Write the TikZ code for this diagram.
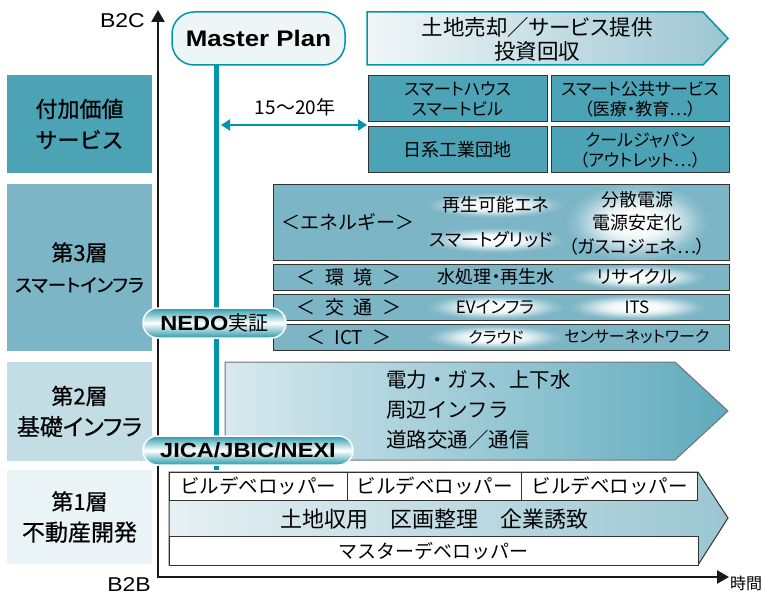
\documentclass[tikz,border=0pt]{standalone}
\usepackage{fontspec}
\setmainfont{Noto Sans CJK JP}[RawFeature=+palt]
\newfontfamily\jpf{Noto Sans CJK JP}
\newfontfamily\jpb{Noto Sans CJK JP}[FakeBold=0.6]
\newfontfamily\jpbp{Noto Sans CJK JP}[FakeBold=0.6,RawFeature=+palt]
\newfontfamily\lat{Liberation Sans}[FakeStretch=1.15]
\usetikzlibrary{arrows.meta,fadings}
\newcommand{\fsz}[2]{\fontsize{#1}{#2}\selectfont}
\definecolor{tealA}{HTML}{0096A8}
\definecolor{dkbox}{HTML}{4BA3B5}
\definecolor{lthree}{HTML}{7BB5C6}
\definecolor{ltwo}{HTML}{C2DDE4}
\definecolor{lone}{HTML}{EAF3F6}
\definecolor{edgec}{HTML}{333333}
\definecolor{mpfill}{HTML}{EEF5F7}
\definecolor{taL}{HTML}{F0F6F8}
\definecolor{taR}{HTML}{9CC6D2}
\definecolor{twoL}{HTML}{D8E9EE}
\definecolor{twoR}{HTML}{5FAABD}
\definecolor{oneL}{HTML}{E6F0F3}
\definecolor{oneR}{HTML}{9AC6D2}
\definecolor{pillc}{HTML}{2A9AAB}
\tikzfading[name=glowfade, inner color=transparent!0, outer color=transparent!100]
\begin{document}
\begin{tikzpicture}[x=1pt,y=-1pt,
  leftlab/.style={inner sep=0, align=center, text=black, font=\jpb\fsz{22}{31}},
  dkb/.style={draw=edgec, line width=1pt, fill=dkbox, inner sep=0, align=center, font=\fsz{17}{20}},
  thb/.style={draw=edgec, line width=1pt, fill=lthree, inner sep=0, minimum width=456pt},
  wb/.style={draw=edgec, line width=1pt, fill=white, inner sep=0, minimum height=28pt, font=\jpf\fsz{19.5}{19.5}},
  txt/.style={inner sep=0, font=\fsz{18}{23.5}, align=center},
  brk/.style={inner sep=0, font=\jpf\fsz{19}{19}},
  glow/.style={fill=white, path fading=glowfade},
  pill/.style={draw=white, line width=1.5pt, top color=pillc, bottom color=pillc, middle color=white, inner sep=0, font=\lat\bfseries\fsz{20.5}{20.5}},
  axisline/.style={line width=2.4pt, draw=black!90, line join=miter}
]
\useasboundingbox (0,0) rectangle (762,596);

% left layer labels
\node[leftlab, fill=dkbox, minimum width=145pt, minimum height=98pt] (L4) at (79.5,124) {\fsz{22}{35}付加価値\\サービス};
\node[leftlab, fill=lthree, minimum width=145pt, minimum height=167pt] (L3) at (79.5,267.5) {第3層\\\jpbp\fsz{18.5}{31}スマートインフラ};
\node[leftlab, fill=ltwo, minimum width=145pt, minimum height=99pt] (L2) at (79.5,411.5) {第2層\\\jpbp\fsz{23}{31}基礎インフラ};
\node[leftlab, fill=lone, minimum width=145pt, minimum height=94pt] (L1) at (79.5,517) {第1層\\\fsz{23}{31}不動産開発};

% axes
\coordinate (O) at (158,577);
\coordinate (ytop) at (158,10);
\coordinate (xend) at (729,577);
\draw[axisline, {Triangle[length=12pt,width=13pt]}-{Triangle[length=12pt,width=13pt]}] (ytop) -- (O) -- (xend);
\node[anchor=east, inner sep=0, font=\lat\fsz{20}{20}] (b2c) at (145,21) {B2C};
\node[inner sep=0, font=\lat\fsz{20}{20}] (b2b) at (129,585) {B2B};
\node[anchor=west, inner sep=0, font=\fsz{16}{16}] (jikan) at (730,583) {時間};

% master plan and teal line
\node[draw=tealA, line width=1.5pt, fill=mpfill, rounded corners=22pt, minimum width=173pt, minimum height=53pt, inner sep=0, font=\lat\bfseries\fsz{22.5}{22.5}] (mp) at (258.5,38.5) {Master Plan};
\coordinate (tltop) at (216,65);
\coordinate (tlend) at (216,470);
\draw[tealA, line width=5pt] (tltop) -- (tlend);

% 15-20 years
\coordinate (da) at (221,125);
\coordinate (db) at (367,125);
\draw[tealA, line width=2pt, {Triangle[length=9pt,width=11pt]}-{Triangle[length=9pt,width=11pt]}] (da) -- (db);
\node[inner sep=0, font=\fsz{19}{19}] (yrs) at (295,107) {15～20年};

% top arrow
\path[draw=tealA, line width=1.5pt, left color=taL, right color=taR] (367,12) -- (703,12) -- (728,38.5) -- (703,65) -- (367,65) -- cycle;
\node[txt, font=\fsz{21.5}{24}] (sale) at (537,39) {土地売却／サービス提供\\投資回収};

% value added boxes
\node[dkb, minimum width=179pt, minimum height=46pt] (hs) at (457.5,99) {スマートハウス\\スマートビル};
\node[dkb, minimum width=178pt, minimum height=46pt] (ps) at (640,99) {スマート公共サービス\\（医療・教育…）};
\node[dkb, minimum width=179pt, minimum height=46pt, font=\fsz{18}{20}] (nk) at (457.5,150) {日系工業団地};
\node[dkb, minimum width=178pt, minimum height=46pt] (cj) at (640,150) {クールジャパン\\（アウトレット…）};

% layer 3 boxes
\node[thb, minimum height=76pt] (en) at (501,222) {};
\node[thb, minimum height=26pt] (env) at (501,277) {};
\node[thb, minimum height=26pt] (tr) at (501,307) {};
\node[thb, minimum height=26pt] (ict) at (501,337) {};

% glows
\begin{scope}
\clip (en.north west) rectangle (ict.south east);
\foreach \gx/\gy/\rx/\ry in {495/205/70/13, 495/240/70/13, 637/222/72/40, 637/277/70/13, 495/307/70/13, 637/307/70/13, 495/337/70/13}{
  \fill[glow] (\gx,\gy) ellipse [x radius=\rx pt, y radius=\ry pt];
  \fill[glow] (\gx,\gy) ellipse [x radius=0.85*\rx pt, y radius=0.8*\ry pt];
  \fill[glow] (\gx,\gy) ellipse [x radius=0.65*\rx pt, y radius=0.6*\ry pt];
}
\end{scope}

% layer 3 texts
\node[brk] (enl) at (348,222) {＜エネルギー＞};
\node[txt] (re) at (496,205) {再生可能エネ};
\node[txt] (sg) at (491,240) {スマートグリッド};
\node[txt] (bs) at (637,223) {分散電源\\電源安定化\\（ガスコジェネ…）};
\node[brk] (envl) at (349,277) {＜\hspace{0.5em}環\hspace{0.5em}境\hspace{0.5em}＞};
\node[txt] (wt) at (496,277) {水処理・再生水};
\node[txt] (rc) at (637,277) {リサイクル};
\node[brk] (trl) at (349,307) {＜\hspace{0.5em}交\hspace{0.5em}通\hspace{0.5em}＞};
\node[txt, font=\fsz{17}{17}] (ev) at (495,307) {EVインフラ};
\node[txt, font=\fsz{17}{17}] (its) at (637,307) {ITS};
\node[brk] (ictl) at (349,337) {＜\hspace{0.5em}ICT\hspace{0.5em}＞};
\node[txt, font=\fsz{16}{16}] (cl) at (496,337) {クラウド};
\node[txt, font=\fsz{16}{16}] (sn) at (637,337) {センサーネットワーク};

% layer 2 arrow
\path[draw=black!55, line width=1pt, left color=twoL, right color=twoR] (225,362) -- (675,362) -- (728,411) -- (675,460) -- (225,460) -- cycle;
\node[anchor=west, inner sep=0, align=left, font=\jpf\fsz{20.5}{30}] (inf) at (386,410) {電力・ガス、上下水\\周辺インフラ\\道路交通／通信};

% layer 1 arrow
\path[draw=edgec, line width=1pt, left color=oneL, right color=oneR] (169,472) -- (698,472) -- (728,518) -- (698,565) -- (169,565) -- cycle;
\node[wb, minimum width=178pt] (bd1) at (258,486) {ビルデベロッパー};
\node[wb, minimum width=175pt] (bd2) at (434.5,486) {ビルデベロッパー};
\node[wb, minimum width=176pt] (bd3) at (609.5,486) {ビルデベロッパー};
\node[inner sep=0, font=\jpf\fsz{22}{22}] (land) at (434,519) {土地収用　区画整理　企業誘致};
\node[wb, minimum width=529pt, minimum height=29pt, font=\jpf\fsz{19}{19}] (mdv) at (433.5,551) {マスターデベロッパー};

% pills
\node[pill, minimum width=143pt, minimum height=30pt, rounded corners=15pt] (nedo) at (214.5,323) {NEDO{\mdseries\rmfamily\fsz{20}{20}実証}};
\node[pill, minimum width=210pt, minimum height=29pt, rounded corners=14.5pt] (jica) at (248,450.5) {JICA/JBIC/NEXI};
\end{tikzpicture}
\end{document}
